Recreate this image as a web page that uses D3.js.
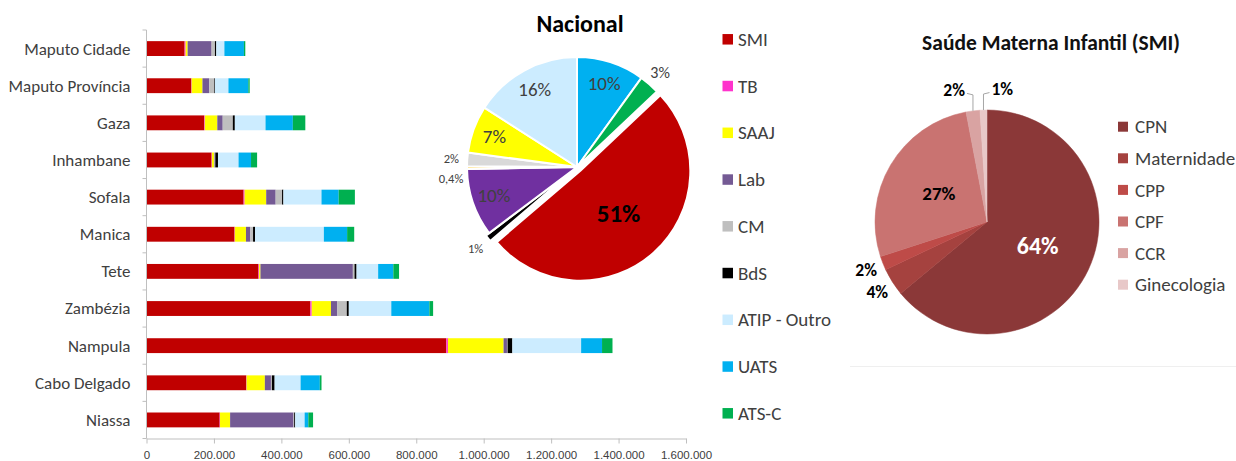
<!DOCTYPE html>
<html>
<head>
<meta charset="utf-8">
<script src="https://cdn.jsdelivr.net/npm/d3@7"></script>
<style>
  body { margin: 0; background: #fff; }
  svg { display: block; font-family: Carlito, Lato, "Open Sans", sans-serif; }
</style>
</head>
<body>
<svg id="chart" width="1236" height="461"></svg>
<script>
// ---- bar chart data (despesa por província e programa) ----
const provinces = ["Maputo Cidade", "Maputo Província", "Gaza", "Inhambane", "Sofala", "Manica",
  "Tete", "Zambézia", "Nampula", "Cabo Delgado", "Niassa"];
const programs = ["SMI", "TB", "SAAJ", "Lab", "CM", "BdS", "ATIP - Outro", "UATS", "ATS-C"];
const programColors = ["#C00000", "#FF33CC", "#FFFF00", "#745A94", "#BFBFBF", "#000000", "#CCECFF", "#00B0F0", "#00B050"];

const smiValues  = [113000, 133000, 171000, 193000, 288000, 261000, 332000, 486000, 889000, 296000, 217000];
const tbValues   = [3000, 1000, 2000, 1000, 3000, 1000, 2000, 4000, 5000, 1000, 1000];
const saajValues = [6000, 32000, 37000, 6000, 64000, 33000, 4000, 57000, 165000, 54000, 30000];
const labValues  = [71000, 20000, 16000, 2000, 28000, 13000, 274000, 19000, 10000, 18000, 188000];
const cmValues   = [10000, 15000, 30000, 2000, 19000, 8000, 5000, 28000, 2000, 3000, 2000];
const bdsValues  = [4000, 2000, 6000, 8000, 4000, 6000, 6000, 6000, 14000, 8000, 3000];
const atipValues = [24000, 40000, 91000, 61000, 113000, 204000, 64000, 126000, 204000, 77000, 28000];
const uatsValues = [58000, 59000, 81000, 37000, 51000, 69000, 45000, 113000, 62000, 57000, 11000];
const atscValues = [4000, 4000, 37000, 18000, 48000, 21000, 17000, 11000, 31000, 5000, 14000];
const xTicks = [0, 200000, 400000, 600000, 800000, 1000000, 1200000, 1400000, 1600000];

// ---- pie Nacional ----
const nacionalNames  = ["UATS", "ATS-C", "SMI", "BdS", "Lab", "TB", "CM", "SAAJ", "ATIP - Outro"];
const nacionalShares = [10, 3, 51, 1, 10, 0.4, 2, 7, 16];
const nacionalColors = ["#00B0F0", "#00B050", "#C00000", "#000000", "#7030A0", "#FFC000", "#D9D9D9", "#FFFF00", "#CCECFF"];

// ---- pie SMI ----
const smiNames  = ["CPN", "Maternidade", "CPP", "CPF", "CCR", "Ginecologia"];
const smiShares = [64, 4, 2, 27, 2, 1];
const smiColors = ["#8B3838", "#A5423F", "#BE4B48", "#C97371", "#D9A3A2", "#E8C8C8"];

const svg = d3.select("#chart");
const textColor = "#404040";
const axisColor = "#BFBFBF";
const pct = (v) => String(v).replace(".", ",") + "%";

// ================= stacked bars =================
const seriesValues = [smiValues, tbValues, saajValues, labValues, cmValues, bdsValues, atipValues, uatsValues, atscValues];
const rows = provinces.map((p, i) => {
  const r = { province: p };
  programs.forEach((k, j) => (r[k] = seriesValues[j][i]));
  return r;
});
const stacked = d3.stack().keys(programs)(rows);

const x = d3.scaleLinear().domain([0, 1600000]).range([146.5, 686]);
const y = d3.scaleBand().domain(provinces).range([30, 438.5]).paddingInner(0.6).paddingOuter(0.3);

const bars = svg.append("g");
bars.selectAll("g")
  .data(stacked)
  .join("g")
  .attr("fill", (d, i) => programColors[i])
  .selectAll("rect")
  .data((d) => d)
  .join("rect")
  .attr("x", (d) => x(d[0]))
  .attr("y", (d) => y(d.data.province))
  .attr("width", (d) => Math.max(0, x(d[1]) - x(d[0])))
  .attr("height", y.bandwidth());

const ptLocale = d3.formatLocale({ decimal: ",", thousands: ".", grouping: [3], currency: ["", ""] });
const xAxis = svg.append("g")
  .attr("transform", "translate(0,438.5)")
  .call(d3.axisBottom(x).tickValues(xTicks).tickFormat(ptLocale.format(",d")).tickSizeInner(5).tickSizeOuter(0).tickPadding(7));
xAxis.select(".domain").attr("stroke", axisColor);
xAxis.selectAll(".tick line").attr("stroke", axisColor);
xAxis.selectAll(".tick text").attr("fill", textColor).attr("font-size", 11.5).attr("font-family", null);

// category axis: line, boundary ticks, labels
const yAxis = svg.append("g").attr("transform", "translate(146.5,0)");
yAxis.append("line").attr("y1", 30).attr("y2", 438.5).attr("stroke", axisColor);
yAxis.selectAll("line.tk")
  .data(d3.range(provinces.length + 1))
  .join("line")
  .attr("class", "tk")
  .attr("x1", -4).attr("x2", 0)
  .attr("y1", (i) => 30 + i * y.step())
  .attr("y2", (i) => 30 + i * y.step())
  .attr("stroke", axisColor);
yAxis.selectAll("text")
  .data(provinces)
  .join("text")
  .attr("x", -16)
  .attr("y", (d) => y(d) + y.bandwidth() / 2)
  .attr("dy", "0.35em")
  .attr("text-anchor", "end")
  .attr("font-size", 17)
  .attr("fill", textColor)
  .text((d) => d);

// ================= pie Nacional =================
const pie = d3.pie().sort(null).value((d) => d.v);

function drawNacional() {
  const cx = 577, cy = 167, r = 110;
  const exploded = new Set(["SMI", "BdS"]);
  const data = pie(nacionalNames.map((n, i) => ({ n, v: nacionalShares[i], c: nacionalColors[i] })));
  const total = d3.sum(nacionalShares);
  const arc = d3.arc().innerRadius(0).outerRadius(r);
  const g = svg.append("g").attr("transform", `translate(${cx},${cy})`);

  data.forEach((d) => {
    d.mid = (d.startAngle + d.endAngle) / 2;
    const off = exploded.has(d.data.n) ? (d.data.n === "SMI" ? 5 : 4) : 0;
    d.ox = Math.sin(d.mid) * off;
    d.oy = -Math.cos(d.mid) * off;
    d.share = d.data.v / total;
  });

  g.selectAll("path")
    .data(data)
    .join("path")
    .attr("transform", (d) => `translate(${d.ox},${d.oy})`)
    .attr("d", arc)
    .attr("fill", (d) => d.data.c)
    .attr("stroke", "#fff")
    .attr("stroke-width", 2)
    .attr("stroke-linejoin", "round");

  // label positions
  data.forEach((d) => {
    let rr;
    if (d.share > 0.4) rr = r * 0.52;
    else if (d.share >= 0.05) rr = r * 0.8;
    else rr = r + 16;
    d.lx = d.ox + Math.sin(d.mid) * rr;
    d.ly = d.oy - Math.cos(d.mid) * rr;
    d.outside = d.share < 0.05;
  });
  // push overlapping outside labels on the left side apart
  const left = data.filter((d) => d.outside && d.lx < 0 && d.ly < 60).sort((a, b) => a.ly - b.ly);
  for (let i = 1; i < left.length; i++) {
    if (left[i].ly - left[i - 1].ly < 20) left[i].ly = left[i - 1].ly + 20;
  }

  g.selectAll("text")
    .data(data)
    .join("text")
    .attr("x", (d) => d.lx)
    .attr("y", (d) => d.ly)
    .attr("dy", "0.35em")
    .attr("text-anchor", "middle")
    .attr("font-size", (d) => (d.share > 0.4 ? 25 : d.outside ? (d.data.v >= 3 ? 16 : 12.5) : 19))
    .attr("font-weight", (d) => (d.share > 0.4 ? "bold" : null))
    .attr("fill", (d) => (d.share > 0.4 ? "#000" : textColor))
    .text((d) => pct(d.data.v));

  svg.append("text")
    .attr("x", 580).attr("y", 32)
    .attr("text-anchor", "middle")
    .attr("font-size", 24).attr("font-weight", "bold")
    .attr("fill", "#000")
    .text("Nacional");

  // legend
  const lg = svg.append("g").selectAll("g")
    .data(programs)
    .join("g")
    .attr("transform", (d, i) => `translate(722.5,${39.3 + i * 46.75})`);
  lg.append("rect").attr("x", 0).attr("y", -5.25).attr("width", 10.5).attr("height", 10.5)
    .attr("fill", (d, i) => programColors[i]);
  lg.append("text").attr("x", 15.5).attr("dy", "0.35em")
    .attr("font-size", 19).attr("fill", textColor).text((d) => d);
}

// ================= pie SMI =================
function drawSMI() {
  const cx = 987, cy = 222, r = 112;
  const data = pie(smiNames.map((n, i) => ({ n, v: smiShares[i], c: smiColors[i] })));
  const total = d3.sum(smiShares);
  const arc = d3.arc().innerRadius(0).outerRadius(r);
  const g = svg.append("g").attr("transform", `translate(${cx},${cy})`);

  g.selectAll("path")
    .data(data)
    .join("path")
    .attr("d", arc)
    .attr("fill", (d) => d.data.c)
    .attr("stroke", (d) => d.data.c)
    .attr("stroke-width", 0.5);

  data.forEach((d) => {
    d.mid = (d.startAngle + d.endAngle) / 2;
    d.share = d.data.v / total;
  });

  const inside = data.filter((d) => d.share >= 0.05);
  g.selectAll("text.in")
    .data(inside)
    .join("text")
    .attr("class", "in")
    .attr("x", (d) => Math.sin(d.mid) * r * 0.5)
    .attr("y", (d) => -Math.cos(d.mid) * r * 0.5)
    .attr("dy", "0.35em")
    .attr("text-anchor", "middle")
    .attr("font-size", (d) => (d.share > 0.5 ? 24 : 19))
    .attr("font-weight", "bold")
    .attr("fill", (d) => (d3.hsl(d.data.c).l < 0.4 ? "#fff" : "#000"))
    .text((d) => pct(d.data.v));

  const outside = data.filter((d) => d.share < 0.05);
  outside.forEach((d) => {
    const s = Math.sin(d.mid), c = Math.cos(d.mid);
    if (Math.abs(s) < 0.3 && c > 0) {
      // near the top: leader line with an elbow
      const dir = s < -0.06 ? -1 : 1;
      const px = s * r, py = -c * r;
      const ex = px, ey = py - 16;
      g.append("polyline")
        .attr("points", `${px},${py} ${ex},${ey} ${ex + dir * 6},${ey - 1.5}`)
        .attr("fill", "none")
        .attr("stroke", "#A6A6A6")
        .attr("stroke-width", 1);
      g.append("text")
        .attr("x", ex + dir * 8)
        .attr("y", ey - 5)
        .attr("dy", "0.35em")
        .attr("text-anchor", dir < 0 ? "end" : "start")
        .attr("font-size", 17.5).attr("font-weight", "bold").attr("fill", "#000")
        .text(pct(d.data.v));
    } else {
      const rr = r + 18;
      g.append("text")
        .attr("x", s * rr)
        .attr("y", -c * rr)
        .attr("dy", "0.35em")
        .attr("text-anchor", "middle")
        .attr("font-size", 17.5).attr("font-weight", "bold").attr("fill", "#000")
        .text(pct(d.data.v));
    }
  });

  svg.append("text")
    .attr("x", 1051).attr("y", 50)
    .attr("text-anchor", "middle")
    .attr("font-size", 21.5).attr("font-weight", "bold")
    .attr("fill", "#111")
    .text("Saúde Materna Infantil (SMI)");

  const lg = svg.append("g").selectAll("g")
    .data(smiNames)
    .join("g")
    .attr("transform", (d, i) => `translate(1118,${126.7 + i * 31.6})`);
  lg.append("rect").attr("x", 0).attr("y", -5).attr("width", 10).attr("height", 10)
    .attr("fill", (d, i) => smiColors[i]);
  lg.append("text").attr("x", 17).attr("dy", "0.35em")
    .attr("font-size", 19).attr("fill", textColor).text((d) => d);

  // faint chart-area edge under the SMI chart
  svg.append("line")
    .attr("x1", 850).attr("x2", 1236).attr("y1", 366.5).attr("y2", 366.5)
    .attr("stroke", "#EFEFEF");
}

drawNacional();
drawSMI();
</script>
</body>
</html>
